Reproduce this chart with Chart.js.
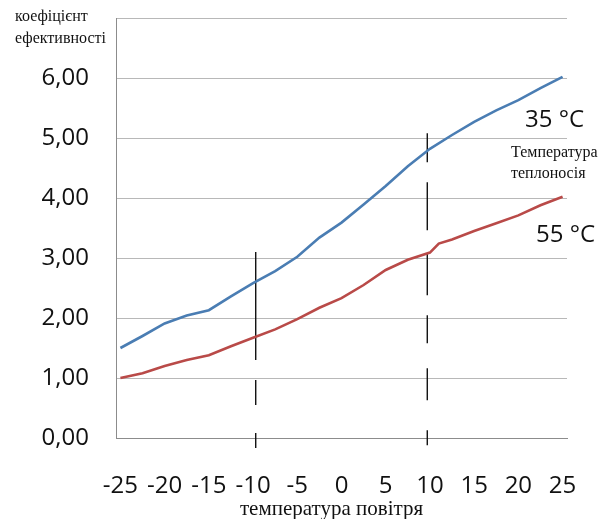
<!DOCTYPE html>
<html><head><meta charset="utf-8">
<script src="https://cdn.jsdelivr.net/npm/chart.js@4/dist/chart.umd.min.js"></script>
<style>html,body{margin:0;padding:0;background:#fff}#wrap{width:612px;height:519px;position:relative}</style>
</head><body><div id="wrap"><canvas id="c" width="612" height="519"></canvas></div>
<script>
const xTickLabels = [-25, -20, -15, -10, -5, 0, 5, 10, 15, 20, 25];
const yTickLabels = [0, 1, 2, 3, 4, 5, 6];
const temps35 = [-25, -22.5, -20, -17.5, -15, -12.5, -10, -7.5, -5, -2.5, 0, 2.5, 5, 7.5, 10, 12.5, 15, 17.5, 20, 22.5, 25];
const cop35 = [1.50, 1.70, 1.91, 2.04, 2.13, 2.36, 2.58, 2.78, 3.02, 3.34, 3.59, 3.89, 4.20, 4.53, 4.82, 5.05, 5.27, 5.46, 5.63, 5.83, 6.02];
const temps55 = [-25, -22.5, -20, -17.5, -15, -12.5, -10, -7.5, -5, -2.5, 0, 2.5, 5, 7.5, 10, 11, 12.5, 15, 17.5, 20, 22.5, 25];
const cop55 = [1.00, 1.08, 1.20, 1.30, 1.38, 1.53, 1.67, 1.81, 1.98, 2.17, 2.33, 2.55, 2.80, 2.97, 3.09, 3.24, 3.31, 3.45, 3.58, 3.71, 3.88, 4.02];
const markerTemps = [-9.7, 9.7];
const markerTop = [3.10, 5.08];
const markerBottom = [-0.17, -0.12];
const yTitle = ['коефіцієнт', 'ефективності'];
const xTitle = 'температура повітря';
const series35Label = '35 °C';
const series55Label = '55 °C';
const carrierLabel = ['Температура', 'теплоносія'];

const pts = (xs, ys) => xs.map((x, i) => ({x, y: ys[i]}));
const dashes = [[108, 20, 25, 28, 15, 60], [29, 20, 48, 23, 42, 20, 28, 25, 32, 30, 15, 60]];

const datasets = [
  {data: pts(temps35, cop35), borderColor: '#4a7db3', borderWidth: 2.6, pointRadius: 0, tension: 0},
  {data: pts(temps55, cop55), borderColor: '#b94a48', borderWidth: 2.6, pointRadius: 0, tension: 0}
];
markerTemps.forEach((t, i) => datasets.push({
  data: [{x: t, y: markerTop[i]}, {x: t, y: markerBottom[i]}],
  borderColor: '#111', borderWidth: 1.4, pointRadius: 0, borderDash: dashes[i], clip: false
}));

const textPlugin = {
  id: 'texts',
  afterDraw(chart) {
    const ctx = chart.ctx;
    const xs = chart.scales.x;
    ctx.save();
    ctx.fillStyle = '#111';
    ctx.textBaseline = 'middle';
    ctx.textAlign = 'left';
    ctx.font = '16px "Liberation Serif"';
    ctx.fillText(yTitle[0], 15, 17);
    ctx.fillText(yTitle[1], 15, 39);
    ctx.textAlign = 'center';
    ctx.font = '21px "Liberation Serif"';
    ctx.fillText(xTitle, (xs.left + xs.right) / 2 - 10, 509);
    ctx.textAlign = 'left';
    ctx.font = '24px "Open Sans"';
    ctx.fillText(series35Label, 525, 120);
    ctx.fillText(series55Label, 536, 235);
    ctx.font = '16px "Liberation Serif"';
    ctx.fillText(carrierLabel[0], 511, 153);
    ctx.fillText(carrierLabel[1], 511, 174);
    ctx.restore();
  }
};

new Chart(document.getElementById('c'), {
  type: 'line',
  data: {datasets},
  options: {
    responsive: false, animation: false, devicePixelRatio: 1,
    layout: {autoPadding: false, padding: {top: 18, right: 45, left: 0, bottom: 0}},
    plugins: {legend: {display: false}, tooltip: {enabled: false}},
    scales: {
      x: {
        type: 'linear', min: -25.5, max: 25.5,
        afterBuildTicks: s => { s.ticks = xTickLabels.map(v => ({value: v})); },
        grid: {display: false, drawTicks: false},
        border: {color: '#8c8c8c', width: 1},
        ticks: {font: {family: 'Open Sans', size: 24}, color: '#111', padding: 34, maxRotation: 0, autoSkip: false,
                callback: v => String(v)},
        afterFit: s => { s.height = 81; s.paddingLeft = 0; s.paddingRight = 0; }
      },
      y: {
        min: 0, max: 7,
        afterBuildTicks: s => { s.ticks = yTickLabels.concat([7]).map(v => ({value: v})); },
        grid: {color: '#b8b8b8', lineWidth: 1, drawTicks: false},
        border: {color: '#8c8c8c', width: 1},
        ticks: {font: {family: 'Open Sans', size: 24}, color: '#111', padding: 27,
                callback: v => v === 7 ? '' : v.toFixed(2).replace('.', ',')},
        afterFit: s => { s.width = 116; s.paddingTop = 0; s.paddingBottom = 0; }
      }
    }
  },
  plugins: [textPlugin]
});
</script></body></html>
